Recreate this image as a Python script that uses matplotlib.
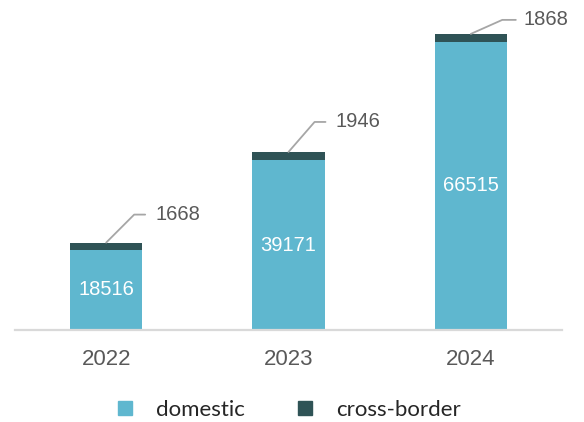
import matplotlib
matplotlib.use("Agg")
import matplotlib.pyplot as plt
from matplotlib.patches import Patch

years = ["2022", "2023", "2024"]
domestic = [18516, 39171, 66515]
cross_border = [1668, 1946, 1868]

# leader line geometry per label, pixels from the bar top: (line end, text start, rise, slope angle)
leaders = [(39, 49, 28, 45), (37, 47, 30, 49), (45, 53, 14, 24)]

c_dom = "#5fb7cf"
c_cross = "#2f5356"
grey = "#595959"

plt.rcParams["font.family"] = ["Liberation Sans", "DejaVu Sans"]

fig = plt.figure(figsize=(5.84, 4.22), dpi=100)
ax = fig.add_axes([15 / 584, 92 / 422, 547 / 584, 320 / 422])

x = list(range(len(years)))
w = 0.395
ax.bar(x, domestic, width=w, color=c_dom, zorder=2)
ax.bar(x, cross_border, width=w, bottom=domestic, color=c_cross, zorder=2)

for i in x:
    ax.text(i, domestic[i] / 2, str(domestic[i]), ha="center", va="center",
            color="white", fontsize=14.5)
    top = domestic[i] + cross_border[i]
    end_x, text_x, rise, ang = leaders[i]
    ax.annotate("", xy=(i, top), xytext=(end_x, rise), textcoords="offset pixels",
                arrowprops=dict(arrowstyle="-", color="#a6a6a6", lw=1.3,
                                shrinkA=0, shrinkB=0,
                                connectionstyle=f"angle,angleA=0,angleB={ang},rad=0"))
    ax.annotate(str(cross_border[i]), xy=(i, top), xytext=(text_x, rise),
                textcoords="offset pixels", ha="left", va="center",
                color=grey, fontsize=14.5)

ax.set_xlim(-0.5, 2.5)
ax.set_ylim(0, 73900)
ax.set_xticks(x)
ax.set_xticklabels(years, fontsize=16, color=grey)
ax.tick_params(axis="x", length=0, pad=14)
ax.set_yticks([])
for s in ["top", "left", "right"]:
    ax.spines[s].set_visible(False)
ax.spines["bottom"].set_color("#d9d9d9")
ax.spines["bottom"].set_linewidth(1.6)

handles = [Patch(color=c_dom, label="domestic"), Patch(color=c_cross, label="cross-border")]
fig.legend(handles=handles, loc="center", bbox_to_anchor=(0.496, 12 / 422), ncol=2,
           frameon=False, handlelength=0.62, handleheight=0.62, handletextpad=1.1,
           columnspacing=2.4, prop={"family": "Lato", "size": 16}, labelcolor="#262626")

fig.savefig("out.png", dpi=100, facecolor="white")
